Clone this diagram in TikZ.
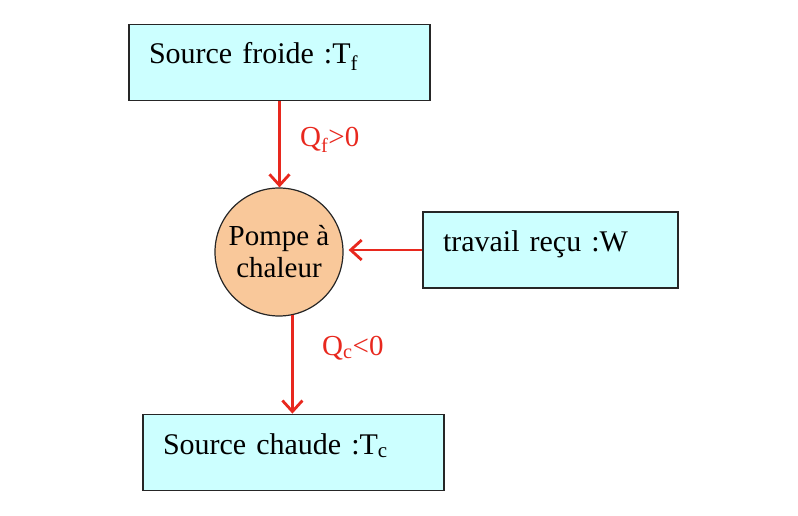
\documentclass[tikz,border=0pt]{standalone}
\usepackage{fontspec}
\setmainfont{Liberation Serif}
\usetikzlibrary{calc}
\usetikzlibrary{arrows.meta}

\definecolor{boxcyan}{HTML}{CCFFFF}
\definecolor{pompeorange}{HTML}{F9C89A}
\definecolor{fluxred}{HTML}{E8281E}

\begin{document}
\begin{tikzpicture} [x=1pt, y=-1pt,
 source/.style={draw=black!85, line width=1.8pt, fill=boxcyan, minimum height=76pt, text width=#1, align=left, inner xsep=20pt, inner ysep=0pt, text height=20pt, text depth=17pt, font=\fontsize{30}{32}\selectfont},
 pompe/.style={circle, draw=black!85, line width=1.2pt, fill=pompeorange, minimum size=128pt, inner sep=0pt, align=center, font=\fontsize{29}{32}\selectfont},
 flux/.style={fluxred, line width=2.8pt, -{Straight Barb[length=11pt, width=20pt]}},
 valeur/.style={fluxred, anchor=base west, inner sep=0pt, font=\fontsize{29}{32}\selectfont}]
\useasboundingbox (0,0) rectangle (798,516);
\node[source=261pt] (froide) at (279.5,62.5) {Source froide :T\textsubscript{f}};
\node[pompe] (pompe) at (279,252) {Pompe à\\chaleur};
\node[source=215pt] (recu) at (550.5,250) {travail reçu :W};
\node[source=261pt] (chaude) at (293.5,452.5) {Source chaude :T\textsubscript{c}};
\draw[flux] (froide.south) -- (froide.south |- pompe.north);
\draw[flux, shorten >=5pt] (recu.west) -- (recu.west -| pompe.east);
\draw[flux] (pompe.-78) -- (pompe.-78 |- chaude.north);
\node[valeur] (qf) at (300,147) {Q\textsubscript{f}>0};
\node[valeur] (qc) at (322,355) {Q\textsubscript{c}<0};
\end{tikzpicture}
\end{document}
